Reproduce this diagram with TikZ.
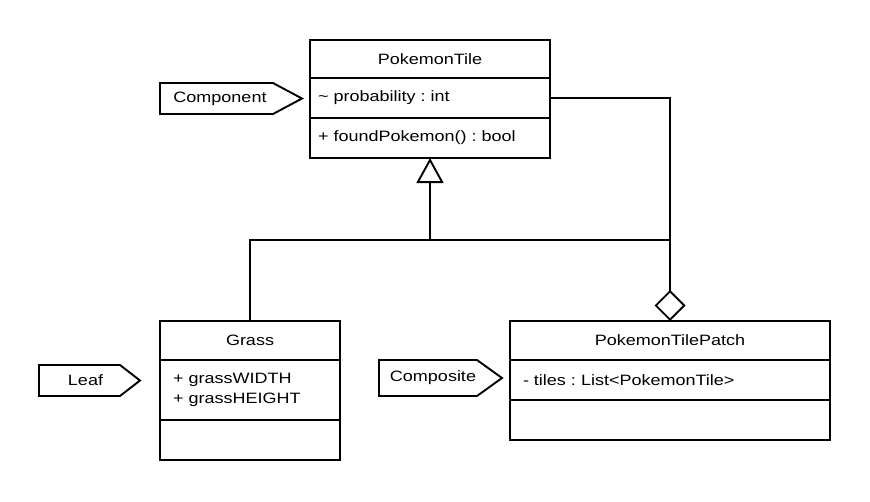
\documentclass[tikz,border=0pt]{standalone}
\usepackage{fontspec}
\setmainfont{Liberation Sans}[FakeStretch=1.2]
\usetikzlibrary{arrows.meta}
\frenchspacing
\begin{document}
\begin{tikzpicture}[x=1pt,y=-1pt,
  font=\fontsize{15}{20}\selectfont\frenchspacing,
  line width=1.9pt,
  comp/.style={draw, rectangle, inner sep=0pt, outer sep=0pt},
  title/.style={comp, align=center},
  body/.style={comp, align=left, inner xsep=#1},
  tagtext/.style={inner sep=0pt},
  tagline/.style={draw, line join=miter},
  conn/.style={draw, line join=miter}
]
\useasboundingbox (0,0) rectangle (870,501);
% PokemonTile
\node[title, minimum width=240pt, minimum height=38pt] (tileT) at (430,59) {PokemonTile};
\node[body=8pt, text width=224pt, minimum height=40pt] (tileA) at (430,98) {\textasciitilde{} probability : int};
\node[body=8pt, text width=224pt, minimum height=40pt] (tileM) at (430,138) {+ foundPokemon() : bool};
% Grass
\node[title, minimum width=180pt, minimum height=39pt] (grassT) at (250,340.5) {Grass};
\node[body=13pt, text width=154pt, minimum height=60pt] (grassA) at (250,390) {+ grassWIDTH\\+ grassHEIGHT};
\node[comp, minimum width=180pt, minimum height=40pt] (grassM) at (250,440) {};
% PokemonTilePatch
\node[title, minimum width=320pt, minimum height=39pt] (patchT) at (670,340.5) {PokemonTilePatch};
\node[body=13pt, text width=294pt, minimum height=40pt] (patchA) at (670,380) {- tiles : List<PokemonTile>};
\node[comp, minimum width=320pt, minimum height=40pt] (patchM) at (670,420) {};
% tags
\node[tagtext] (tagComp) at (220,98.5) {Component};
\draw[tagline] (160,83) -- (273,83) -- (302,98.5) -- (273,114) -- (160,114) -- cycle;
\node[tagtext] (tagLeaf) at (85.5,380.5) {Leaf};
\draw[tagline] (39,365) -- (120,365) -- (140,380.5) -- (120,396) -- (39,396) -- cycle;
\node[tagtext] (tagCompo) at (433,378) {Composite};
\draw[tagline] (379,360) -- (477,360) -- (502,378) -- (477,396) -- (379,396) -- cycle;
% junctions
\coordinate (jA) at (430,240);
\coordinate (jC) at (670,240);
% generalizations
\draw[conn, -{Triangle[open, length=25pt, width=27pt]}] (grassT.north) |- (jA) -- (tileM.south);
\draw[conn] (patchT.north) -- (jC) -- (jA);
% aggregation
\draw[conn, -{Diamond[fill=white, length=31pt, width=31pt]}] (tileA.east) -| (patchT.north);
\end{tikzpicture}
\end{document}
